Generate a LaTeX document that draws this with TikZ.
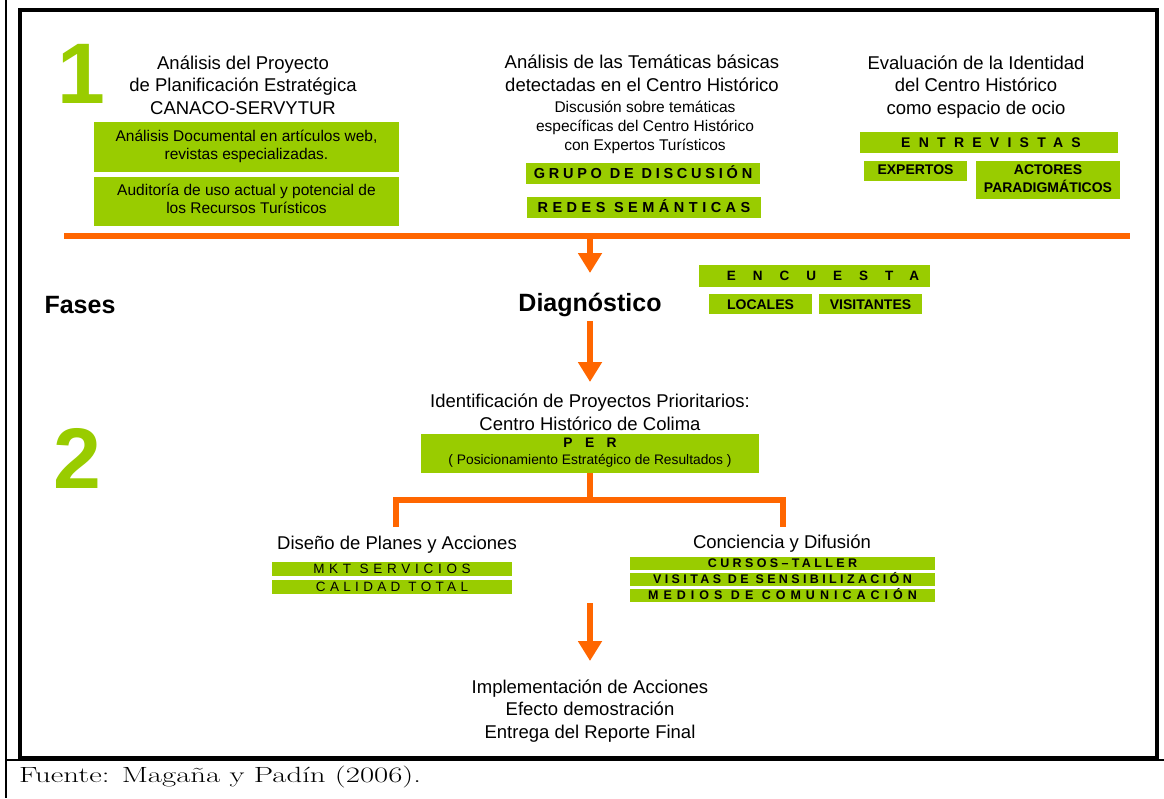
\documentclass[tikz,border=0pt]{standalone}
\usepackage{fontspec}
\setsansfont{Liberation Sans}
\usetikzlibrary{arrows.meta}
\definecolor{grn}{RGB}{153,204,0}
\definecolor{org}{RGB}{255,102,0}
\newcommand{\lsp}[2]{{\addfontfeature{LetterSpace=#1}#2}}
\newcommand{\fs}[2]{\fontsize{#1}{#2}\selectfont}
\begin{document}
\begin{tikzpicture}[x=1pt,y=-1pt,
  every node/.style={font=\sffamily, inner sep=0pt, outer sep=0pt},
  gbox/.style={fill=grn, inner sep=0pt, align=center},
  cap/.style={text height=#1, text depth=0pt},
  hd/.style={align=center, font=\sffamily\fs{18.5}{22.5}},
  sub/.style={align=center, font=\sffamily\fs{15.5}{19}},
  big/.style={font=\sffamily\bfseries\fs{86}{90}, text=grn, anchor=base},
  arr/.style={draw=org, line width=6pt, -{Triangle[width=23pt,length=20pt]}},
  tree/.style={draw=org, line width=6.5pt}]
\useasboundingbox (0,0) rectangle (1164,798);
% frame
\draw[line width=1.7pt] (6,0) -- (6,798);
\draw[line width=4pt] (20,10) rectangle (1157,758);
\draw[line width=2pt] (6,759.5) -- (1164,759.5);
% big numbers
\node[big] (n1) at (81,103) {1};
\node[big] (n2) at (77,488) {2};
% column 1
\node[hd] (h1) at (243,87) {\strut Análisis del Proyecto\\\strut de Planificación Estratégica\\\strut CANACO-SERVYTUR};
\node[gbox, minimum width=305pt, minimum height=50pt, font=\sffamily\fs{15.5}{18}] (b1) at (246.5,146.5) {\strut Análisis Documental en artículos web,\\\strut revistas especializadas.};
\node[gbox, minimum width=305pt, minimum height=49pt, font=\sffamily\fs{15.5}{18}] (b2) at (246.5,201) {\strut Auditoría de uso actual y potencial de\\\strut los Recursos Turísticos};
% column 2
\node[hd] (h2) at (642,75.7) {\strut Análisis de las Temáticas básicas\\\strut detectadas en el Centro Histórico};
\node[sub] (s2) at (645,128) {\strut Discusión sobre temáticas\\\strut específicas del Centro Histórico\\\strut con Expertos Turísticos};
\node[gbox, minimum width=234pt, minimum height=21pt, cap=10.4pt, font=\sffamily\bfseries\fs{14.5}{15}] (gd) at (643,173.5) {\lsp{26}{GRUPO DE DISCUSIÓN}};
\node[gbox, minimum width=234pt, minimum height=21pt, cap=10.4pt, font=\sffamily\bfseries\fs{14.5}{15}] (rs) at (644,207.5) {\lsp{31}{REDES SEMÁNTICAS}};
% column 3
\node[hd] (h3) at (976,87) {\strut Evaluación de la Identidad\\\strut del Centro Histórico\\\strut como espacio de ocio};
\node[gbox, minimum width=258pt, minimum height=21pt, cap=10pt, font=\sffamily\bfseries\fs{14}{15}] (en) at (989,142.5) {\lsp{59}{ENTREVISTAS}\hspace{-4pt}};
\node[gbox, minimum width=103pt, minimum height=20pt, font=\sffamily\bfseries\fs{14}{17}] (ex) at (915.5,171) {\raisebox{2pt}{EXPERTOS}};
\node[gbox, minimum width=144pt, minimum height=38pt, font=\sffamily\bfseries\fs{14}{17}] (ac) at (1048,180) {\strut ACTORES\\\strut PARADIGMÁTICOS};
% phase line
\coordinate (hl0) at (64,236);
\coordinate (hl1) at (1130,236);
\coordinate (hlm) at (590,236);
\draw[draw=org, line width=6pt] (hl0) -- (hl1);
\node[font=\sffamily\bfseries\fs{25}{30}] (fa) at (80,305) {Fases};
\node[font=\sffamily\bfseries\fs{25}{30}, text height=18pt, text depth=0pt] (dg) at (590,302) {Diagnóstico};
\coordinate (t1) at (590,273);
\draw[arr] (hlm) -- (t1);
\node[gbox, minimum width=231pt, minimum height=22pt, cap=9.7pt, font=\sffamily\bfseries\fs{13.5}{15}] (ec) at (814.5,276) {\lsp{126}{ENCUESTA}\hspace{-17pt}};
\node[gbox, minimum width=103pt, minimum height=20pt, cap=10pt, font=\sffamily\bfseries\fs{14}{17}] (lo) at (760.5,304) {LOCALES};
\node[gbox, minimum width=103pt, minimum height=20pt, cap=10pt, font=\sffamily\bfseries\fs{14}{17}] (vi) at (870.5,304) {VISITANTES};
% identification
\coordinate (d0) at (590,321);
\coordinate (t2) at (590,382);
\draw[arr] (d0) -- (t2);
\node[hd] (id) at (590,414.7) {\strut Identificación de Proyectos Prioritarios:\\\strut Centro Histórico de Colima};
\node[gbox, minimum width=338pt, minimum height=39pt, font=\sffamily\fs{13.8}{17}] (per) at (590,453.5) {{\bfseries\lsp{90}{PER}\hspace{-10pt}}\\\strut( Posicionamiento Estratégico de Resultados )};
% tree
\coordinate (tr) at (590,500);
\coordinate (tl) at (396,500);
\coordinate (trr) at (783,500);
\coordinate (el) at (396,527);
\coordinate (er) at (783,527);
\draw[tree] (per.south) -- (tr);
\draw[tree, line join=miter] (el) -- (tl) -- (trr) -- (er);
% left branch
\node[hd] (dp) at (397,545) {Diseño de Planes y Acciones};
\node[gbox, minimum width=240pt, minimum height=14pt, cap=9.6pt, font=\sffamily\fs{13.5}{14}] (mk) at (392,569) {\lsp{35}{MKT SERVICIOS}};
\node[gbox, minimum width=240pt, minimum height=14pt, cap=9.6pt, font=\sffamily\fs{13.5}{14}] (ct) at (392,587) {\lsp{32}{CALIDAD TOTAL}};
% right branch
\node[hd] (cd) at (782,544) {Conciencia y Difusión};
\node[gbox, minimum width=305pt, minimum height=13pt, cap=8.9pt, font=\sffamily\bfseries\fs{12.5}{13}] (cu) at (782.5,563.5) {\lsp{27}{CURSOS–TALLER}};
\node[gbox, minimum width=305pt, minimum height=13pt, cap=8.9pt, font=\sffamily\bfseries\fs{12.5}{13}] (vs) at (782.5,579.5) {\lsp{27}{VISITAS DE SENSIBILIZACIÓN}};
\node[gbox, minimum width=305pt, minimum height=13pt, cap=8.9pt, font=\sffamily\bfseries\fs{12.5}{13}] (md) at (782.5,595.5) {\lsp{40}{MEDIOS DE COMUNICACIÓN}};
% final
\coordinate (f0) at (590,603);
\coordinate (t3) at (590,661);
\draw[arr] (f0) -- (t3);
\node[hd] (im) at (590,711) {\strut Implementación de Acciones\\\strut Efecto demostración\\\strut Entrega del Reporte Final};
% source
\node[anchor=base west, font=\rmfamily\fs{22}{24}] (src) at (19,782) {\scalebox{1.4}[1]{Fuente: Magaña y Padín (2006).}};
\end{tikzpicture}
\end{document}
